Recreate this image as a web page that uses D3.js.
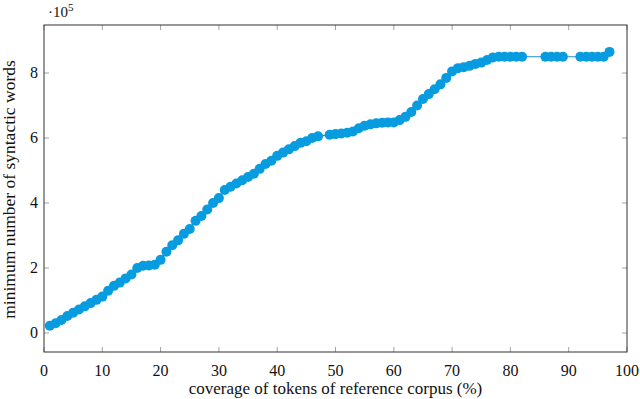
<!DOCTYPE html>
<html>
<head>
<meta charset="utf-8">
<script src="https://cdn.jsdelivr.net/npm/d3@7"></script>
<style>
  body { margin: 0; background: #fff; }
  svg text { font-family: "Liberation Serif", "DejaVu Serif", serif; fill: #111; }
</style>
</head>
<body>
<svg width="640" height="399"></svg>
<script>
// coverage (%) of tokens in the reference corpus
var coverage = [1,2,3,4,5,6,7,8,9,10,11,12,13,14,15,16,17,18,19,20,
	21,22,23,24,25,26,27,28,29,30,31,32,33,34,35,36,37,38,39,40,
	41,42,43,44,45,46,47,49,50,51,52,53,54,55,56,57,58,59,60,
	61,62,63,64,65,66,67,68,69,70,71,72,73,74,75,76,77,78,79,80,81,82,
	86,87,88,89,92,93,94,95,96,97];
// minimum number of syntactic words (x 10^5)
var words = [0.22,0.3,0.4,0.52,0.62,0.72,0.82,0.92,1.02,1.12,1.3,1.45,1.55,1.68,1.8,2.0,2.07,2.08,2.1,2.25,
	2.5,2.7,2.85,3.05,3.2,3.45,3.6,3.8,4.0,4.15,4.4,4.5,4.6,4.7,4.8,4.9,5.05,5.2,5.3,5.45,
	5.55,5.65,5.75,5.85,5.9,6.0,6.05,6.1,6.12,6.14,6.16,6.2,6.3,6.38,6.42,6.45,6.47,6.48,6.48,
	6.55,6.65,6.8,7.0,7.2,7.35,7.5,7.65,7.85,8.05,8.15,8.18,8.22,8.28,8.32,8.4,8.48,8.5,8.5,8.5,8.5,8.5,
	8.5,8.5,8.5,8.5,8.5,8.5,8.5,8.5,8.5,8.65];
var xTicks = [0,10,20,30,40,50,60,70,80,90,100];
var yTicks = [0,2,4,6,8];

var svg = d3.select("svg");
var plot = {left:44, right:627, top:25, bottom:352};

var x = d3.scaleLinear().domain([0,100]).range([plot.left,plot.right]);
var y = d3.scaleLinear().domain([-0.585,9.477]).range([plot.bottom,plot.top]);

var pts = coverage.map(function(c,i){ return [c, words[i]]; });

// ticks, all four sides, pointing in
var tk = svg.append("g").attr("class","ticks")
	.attr("stroke","#8c8c8c").attr("stroke-width",0.8);
xTicks.forEach(function(t){
	tk.append("line").attr("x1",x(t)).attr("x2",x(t)).attr("y1",plot.bottom).attr("y2",plot.bottom-5);
	tk.append("line").attr("x1",x(t)).attr("x2",x(t)).attr("y1",plot.top).attr("y2",plot.top+5);
});
yTicks.forEach(function(t){
	tk.append("line").attr("y1",y(t)).attr("y2",y(t)).attr("x1",plot.left).attr("x2",plot.left+5);
	tk.append("line").attr("y1",y(t)).attr("y2",y(t)).attr("x1",plot.right).attr("x2",plot.right-5);
});

// frame
svg.append("rect")
	.attr("x",plot.left).attr("y",plot.top)
	.attr("width",plot.right-plot.left).attr("height",plot.bottom-plot.top)
	.attr("fill","none").attr("stroke","#333").attr("stroke-width",1);

// line + marks
svg.append("path")
	.datum(pts)
	.attr("fill","none")
	.attr("stroke","#1b8fcc")
	.attr("stroke-width",1.2)
	.attr("d", d3.line().x(function(d){return x(d[0])}).y(function(d){return y(d[1])}));

svg.append("g").selectAll("circle")
	.data(pts)
	.enter().append("circle")
	.attr("cx",function(d){return x(d[0])})
	.attr("cy",function(d){return y(d[1])})
	.attr("r",5)
	.attr("fill","#079be0");

// tick labels
svg.append("g").selectAll("text")
	.data(xTicks)
	.enter().append("text")
	.attr("x",function(d){return x(d)})
	.attr("y",376)
	.attr("text-anchor","middle")
	.attr("font-size",16)
	.text(function(d){return d});

svg.append("g").selectAll("text")
	.data(yTicks)
	.enter().append("text")
	.attr("x",38)
	.attr("y",function(d){return y(d)+5})
	.attr("text-anchor","end")
	.attr("font-size",16)
	.text(function(d){return d});

// scale note
var sc = svg.append("text").attr("x",48).attr("y",17).attr("font-size",15);
sc.append("tspan").text("·10");
sc.append("tspan").attr("dy",-6).attr("font-size",11).text("5");

// axis titles
svg.append("text")
	.attr("x",(plot.left+plot.right)/2).attr("y",394)
	.attr("text-anchor","middle")
	.attr("font-size",17)
	.text("coverage of tokens of reference corpus (%)");

svg.append("text")
	.attr("transform","translate(15," + ((plot.top+plot.bottom)/2 + 1) + ") rotate(-90)")
	.attr("text-anchor","middle")
	.attr("font-size",17.5)
	.text("minimum number of syntactic words");
</script>
</body>
</html>
